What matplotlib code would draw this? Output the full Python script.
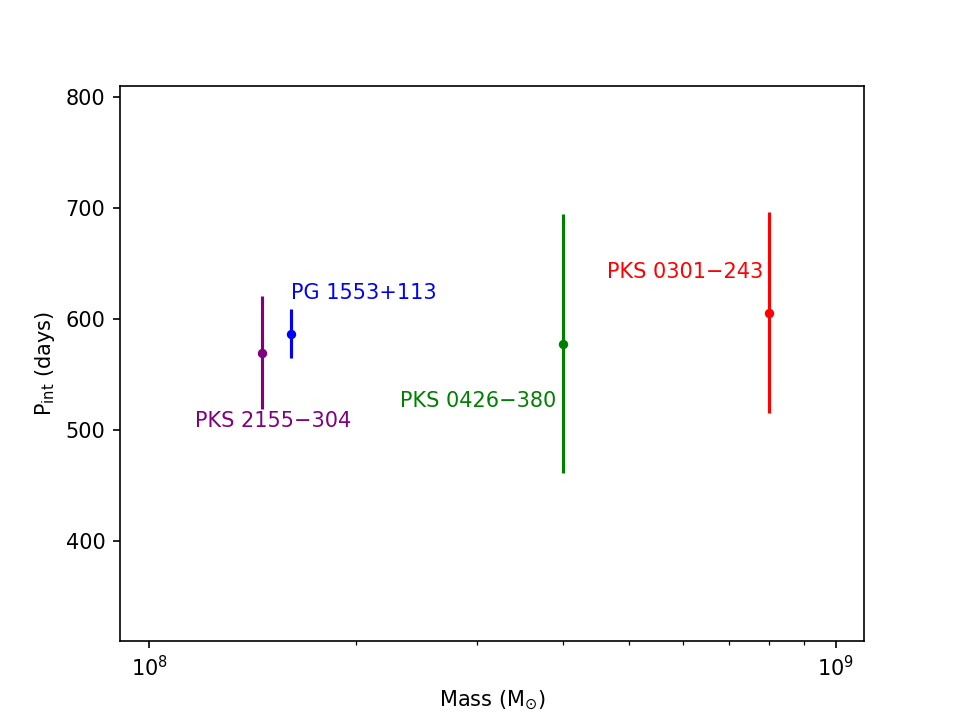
import matplotlib
matplotlib.use("Agg")
import matplotlib.pyplot as plt

names = ["PKS 2155\u2212304", "PG 1553+113", "PKS 0426\u2212380", "PKS 0301\u2212243"]
masses = [1.46e8, 1.61e8, 4.0e8, 8.0e8]
periods = [570, 587, 578, 606]
errors = [51, 22, 117, 91]
colors = ["purple", "blue", "green", "red"]

# label placement (x factor relative to mass, y baseline, horizontal alignment)
label_pos = [(1.039, 503, "center"), (1.0, 618, "left"), (0.98, 521, "right"), (0.98, 637, "right")]

fig, ax = plt.subplots(figsize=(6.4, 4.8), dpi=150)
for n, m, p, e, c, (fx, ly, ha) in zip(names, masses, periods, errors, colors, label_pos):
    ax.errorbar(m, p, yerr=e, fmt='o', color=c, markersize=3.5, elinewidth=1.5, capsize=0)
    ax.text(m * fx, ly, n, color=c, ha=ha, va='baseline', fontsize=10)

ax.set_xscale('log')
ax.set_xlim(9.07e7, 1.099e9)
ax.set_ylim(310, 810)
ax.set_yticks([400, 500, 600, 700, 800])
ax.set_xlabel(r"Mass (M$_{\odot}$)")
ax.set_ylabel(r"P$_{\rm int}$ (days)")
fig.savefig("out.png", dpi=150)
